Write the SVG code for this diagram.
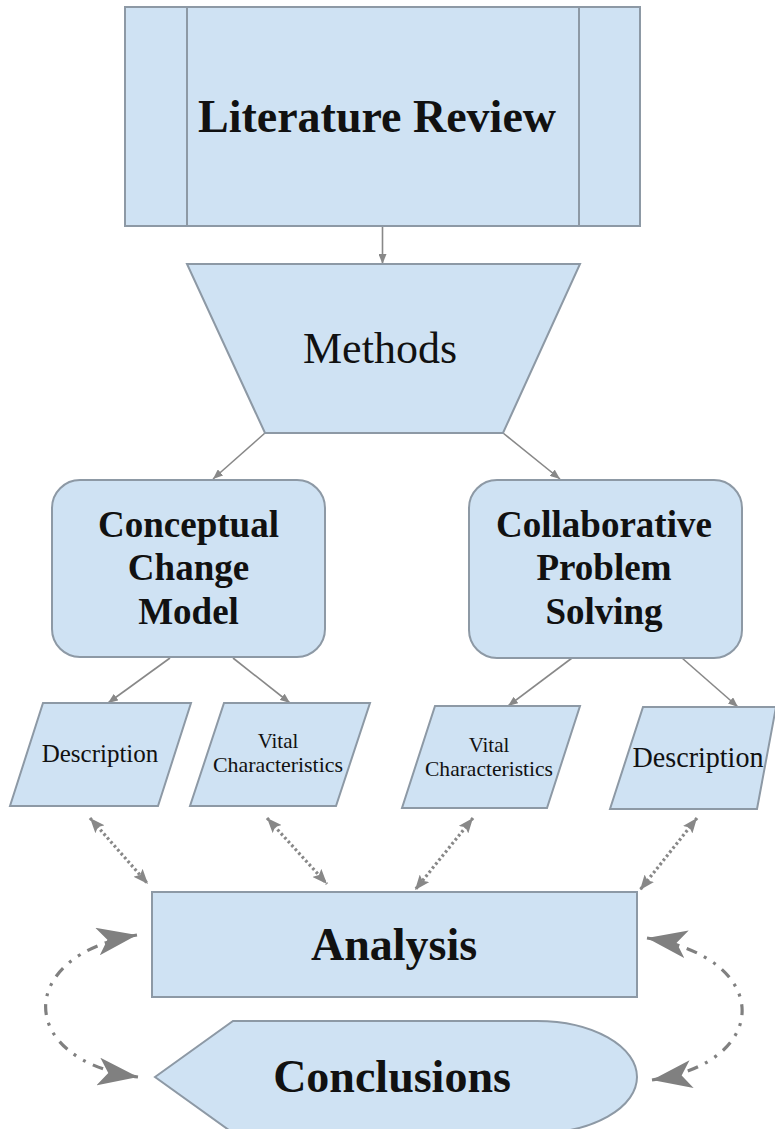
<svg xmlns="http://www.w3.org/2000/svg" width="775" height="1129" viewBox="0 0 775 1129">
  <style>
    .node { fill: #cfe2f3; stroke: #8d99a5; stroke-width: 2; }
    .inner { fill: none; stroke: #8d99a5; stroke-width: 2; }
    .conn { fill: none; stroke: #888888; stroke-width: 1.6; }
    .dots { fill: none; stroke: #888888; stroke-width: 3.2; stroke-dasharray: 2.6 2.6; }
    .dashdot { fill: none; stroke: #808080; stroke-width: 3.2; stroke-dasharray: 11 8 3 8 3 8; }
    .bold { font-family: "Liberation Serif", "Times New Roman", serif; font-weight: bold; fill: #111111; text-anchor: middle; }
    .reg { font-family: "Liberation Serif", "Times New Roman", serif; fill: #111111; text-anchor: middle; }
  </style>
  <defs>
    <marker id="arrSmall" markerUnits="userSpaceOnUse" markerWidth="10" markerHeight="8" refX="10" refY="4" orient="auto">
      <path d="M0,0 L10,4 L0,8 z" fill="#888888"/>
    </marker>
    <marker id="arrDot" markerUnits="userSpaceOnUse" markerWidth="15" markerHeight="12" refX="15" refY="6" orient="auto-start-reverse">
      <path d="M0,0 L15,6 L0,12 L3,6 z" fill="#888888"/>
    </marker>
    <marker id="arrBig" markerUnits="userSpaceOnUse" markerWidth="40" markerHeight="28" refX="40" refY="14" orient="auto-start-reverse">
      <path d="M0,0 L40,14 L0,28 L10,14 z" fill="#808080"/>
    </marker>
  </defs>

  <g id="connectors">
    <line class="conn" x1="382.5" y1="226" x2="382.5" y2="264" marker-end="url(#arrSmall)"/>
    <line class="conn" x1="265" y1="433" x2="213" y2="479" marker-end="url(#arrSmall)"/>
    <line class="conn" x1="503" y1="433" x2="560" y2="479" marker-end="url(#arrSmall)"/>
    <line class="conn" x1="170" y1="658" x2="108" y2="703" marker-end="url(#arrSmall)"/>
    <line class="conn" x1="233" y1="658" x2="290" y2="703" marker-end="url(#arrSmall)"/>
    <line class="conn" x1="572" y1="658" x2="508" y2="706" marker-end="url(#arrSmall)"/>
    <line class="conn" x1="682" y1="658" x2="738" y2="707" marker-end="url(#arrSmall)"/>

    <line class="dots" x1="90" y1="818" x2="148" y2="884" marker-start="url(#arrDot)" marker-end="url(#arrDot)"/>
    <line class="dots" x1="267" y1="818" x2="327" y2="884" marker-start="url(#arrDot)" marker-end="url(#arrDot)"/>
    <line class="dots" x1="473" y1="818" x2="415" y2="890" marker-start="url(#arrDot)" marker-end="url(#arrDot)"/>
    <line class="dots" x1="697" y1="818" x2="640" y2="890" marker-start="url(#arrDot)" marker-end="url(#arrDot)"/>

    <path class="dashdot" d="M137,935 C15,955 15,1060 138,1077" marker-start="url(#arrBig)" marker-end="url(#arrBig)"/>
    <path class="dashdot" d="M647,938 C773,958 773,1062 652,1080" marker-start="url(#arrBig)" marker-end="url(#arrBig)"/>
  </g>

  <g id="literature-review">
    <rect class="node" x="125" y="7" width="515" height="219"/>
    <line class="inner" x1="187" y1="7" x2="187" y2="226"/>
    <line class="inner" x1="579" y1="7" x2="579" y2="226"/>
    <text class="bold" x="377" y="132" font-size="46">Literature Review</text>
  </g>

  <g id="methods">
    <polygon class="node" points="187,264 580,264 503,433 265,433"/>
    <text class="reg" x="380" y="363" font-size="44">Methods</text>
  </g>

  <g id="conceptual-change-model">
    <rect class="node" x="52" y="480" width="273" height="177" rx="28" ry="28"/>
    <text class="bold" x="188.5" y="537" font-size="37">Conceptual</text>
    <text class="bold" x="188.5" y="580" font-size="37">Change</text>
    <text class="bold" x="188.5" y="624" font-size="37">Model</text>
  </g>

  <g id="collaborative-problem-solving">
    <rect class="node" x="469" y="480" width="273" height="178" rx="28" ry="28"/>
    <text class="bold" x="604" y="537" font-size="37">Collaborative</text>
    <text class="bold" x="604" y="580" font-size="37">Problem</text>
    <text class="bold" x="604" y="624" font-size="37">Solving</text>
  </g>

  <g id="description-left">
    <polygon class="node" points="43,703 191,703 158,806 10,806"/>
    <text class="reg" x="100" y="762" font-size="25">Description</text>
  </g>

  <g id="vital-left">
    <polygon class="node" points="224,703 370,703 336,806 190,806"/>
    <text class="reg" x="278" y="748" font-size="21">Vital</text>
    <text class="reg" x="278" y="772" font-size="21" textLength="130" lengthAdjust="spacingAndGlyphs">Characteristics</text>
  </g>

  <g id="vital-right">
    <polygon class="node" points="435,706 580,706 547,808 402,808"/>
    <text class="reg" x="489" y="752" font-size="21">Vital</text>
    <text class="reg" x="489" y="776" font-size="21" textLength="128" lengthAdjust="spacingAndGlyphs">Characteristics</text>
  </g>

  <g id="description-right">
    <polygon class="node" points="643,707 776,707 757,809 610,809"/>
    <text class="reg" x="698" y="767" font-size="30" textLength="131" lengthAdjust="spacingAndGlyphs">Description</text>
  </g>

  <g id="analysis">
    <rect class="node" x="152" y="892" width="485" height="105"/>
    <text class="bold" x="394" y="960" font-size="46">Analysis</text>
  </g>

  <g id="conclusions">
    <path class="node" d="M155,1077 L233,1021 L537,1021 A100,56 0 0 1 537,1133 L233,1133 Z"/>
    <text class="bold" x="392" y="1092" font-size="46">Conclusions</text>
  </g>
</svg>
